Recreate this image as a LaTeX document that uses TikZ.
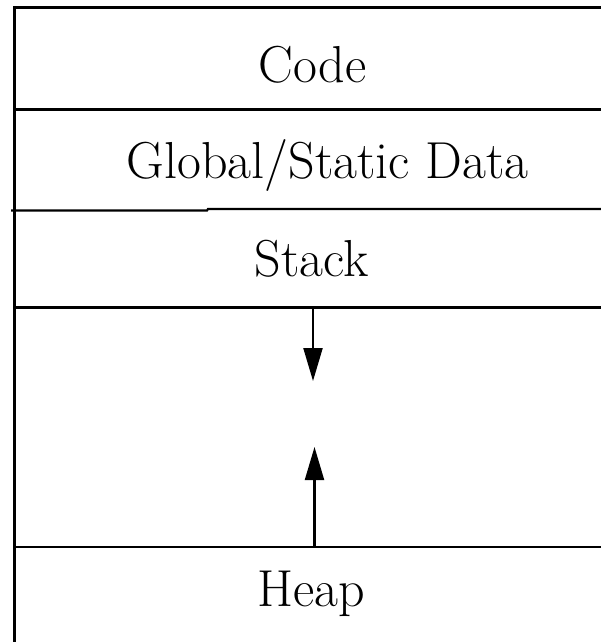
\documentclass[tikz,border=0pt]{standalone}
\usetikzlibrary{arrows.meta}
\begin{document}
\begin{tikzpicture}[x=1pt,y=-1pt,
  wall/.style={line width=2.2pt,black},
  lbl/.style={font=\fontsize{52}{60}\selectfont,inner sep=0pt,anchor=base},
  growarrow/.style={line width=2.2pt,-{Triangle[length=33pt,width=19pt]}}]
\useasboundingbox (0,0) rectangle (601,642);
\draw[wall] (601,7.5) -- (14.5,7.5) -- (14.5,642);
\draw[wall] (14.5,109.5) -- (601,109.5);
\draw[wall] (11,210.5) -- (207,210.5) -- (208,209) -- (601,209);
\draw[wall] (14.5,307.5) -- (601,307.5);
\draw[wall] (14.5,547) -- (601,547);
\node[lbl] (code) at (312.5,82) {Code};
\node[lbl] (glob) at (327.5,178) {Global/Static Data};
\node[lbl] (stack) at (311.5,276) {Stack};
\node[lbl] (heap) at (311,606) {Heap};
\coordinate (s0) at (313,307.5);
\coordinate (s1) at (313,381);
\coordinate (h0) at (314.5,547);
\coordinate (h1) at (314.5,447);
\draw[growarrow] (s0) -- (s1);
\draw[growarrow] (h0) -- (h1);
\end{tikzpicture}
\end{document}
